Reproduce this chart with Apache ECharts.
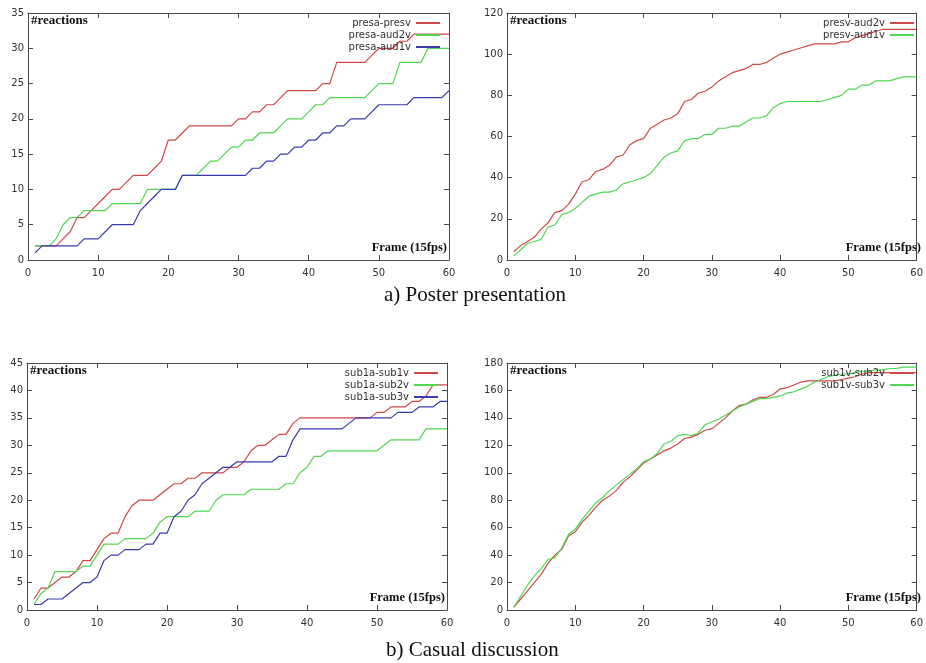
<!DOCTYPE html>
<html>
<head>
<meta charset="utf-8">
<script src="https://cdn.jsdelivr.net/npm/echarts@6/dist/echarts.min.js"></script>
<style>
  html, body { margin: 0; padding: 0; background: #fff; }
  #chart { width: 926px; height: 663px; }
</style>
</head>
<body>
<div id="chart"></div>
<script>
// frame numbers shared by every curve
const frames = [1, 2, 3, 4, 5, 6, 7, 8, 9, 10, 11, 12, 13, 14, 15, 16, 17, 18, 19, 20,
  21, 22, 23, 24, 25, 26, 27, 28, 29, 30, 31, 32, 33, 34, 35, 36, 37, 38, 39, 40,
  41, 42, 43, 44, 45, 46, 47, 48, 49, 50, 51, 52, 53, 54, 55, 56, 57, 58, 59, 60];

// a) poster presentation
const presaPresv = [2, 2, 2, 2, 3, 4, 6, 6, 7, 8, 9, 10, 10, 11, 12, 12, 12, 13, 14, 17,
  17, 18, 19, 19, 19, 19, 19, 19, 19, 20, 20, 21, 21, 22, 22, 23, 24, 24, 24, 24,
  24, 25, 25, 28, 28, 28, 28, 28, 29, 30, 30, 30, 31, 31, 32, 32, 32, 32, 32, 32];
const presaAud2v = [2, 2, 2, 3, 5, 6, 6, 7, 7, 7, 7, 8, 8, 8, 8, 8, 10, 10, 10, 10,
  10, 12, 12, 12, 13, 14, 14, 15, 16, 16, 17, 17, 18, 18, 18, 19, 20, 20, 20, 21,
  22, 22, 23, 23, 23, 23, 23, 23, 24, 25, 25, 25, 28, 28, 28, 28, 30, 30, 30, 30];
const presaAud1v = [1, 2, 2, 2, 2, 2, 2, 3, 3, 3, 4, 5, 5, 5, 5, 7, 8, 9, 10, 10,
  10, 12, 12, 12, 12, 12, 12, 12, 12, 12, 12, 13, 13, 14, 14, 15, 15, 16, 16, 17,
  17, 18, 18, 19, 19, 20, 20, 20, 21, 22, 22, 22, 22, 22, 23, 23, 23, 23, 23, 24];
const presvAud2v = [4, 7, 9, 11, 15, 18, 23, 24, 27, 32, 38, 39, 43, 44, 46, 50, 51, 56, 58, 59,
  64, 66, 68, 69, 71, 77, 78, 81, 82, 84, 87, 89, 91, 92, 93, 95, 95, 96, 98, 100,
  101, 102, 103, 104, 105, 105, 105, 105, 106, 106, 108, 109, 110, 111, 112, 112, 112, 112, 112, 112];
const presvAud1v = [2, 5, 8, 9, 10, 16, 17, 22, 23, 25, 28, 31, 32, 33, 33, 34, 37, 38, 39, 40,
  42, 46, 50, 52, 53, 58, 59, 59, 61, 61, 64, 64, 65, 65, 67, 69, 69, 70, 74, 76,
  77, 77, 77, 77, 77, 77, 78, 79, 80, 83, 83, 85, 85, 87, 87, 87, 88, 89, 89, 89];

// b) casual discussion
const sub1aSub1v = [2, 4, 4, 5, 6, 6, 7, 9, 9, 11, 13, 14, 14, 17, 19, 20, 20, 20, 21, 22,
  23, 23, 24, 24, 25, 25, 25, 25, 26, 26, 27, 29, 30, 30, 31, 32, 32, 34, 35, 35,
  35, 35, 35, 35, 35, 35, 35, 35, 35, 36, 36, 37, 37, 37, 38, 38, 39, 41, 41, 41];
const sub1aSub2v = [1, 3, 4, 7, 7, 7, 7, 8, 8, 10, 12, 12, 12, 13, 13, 13, 13, 14, 16, 17,
  17, 17, 17, 18, 18, 18, 20, 21, 21, 21, 21, 22, 22, 22, 22, 22, 23, 23, 25, 26,
  28, 28, 29, 29, 29, 29, 29, 29, 29, 29, 30, 31, 31, 31, 31, 31, 33, 33, 33, 33];
const sub1aSub3v = [1, 1, 2, 2, 2, 3, 4, 5, 5, 6, 9, 10, 10, 11, 11, 11, 12, 12, 14, 14,
  17, 18, 20, 21, 23, 24, 25, 26, 26, 27, 27, 27, 27, 27, 27, 28, 28, 31, 33, 33,
  33, 33, 33, 33, 33, 34, 35, 35, 35, 35, 35, 35, 36, 36, 36, 37, 37, 37, 38, 38];
const sub1vSub2v = [2, 8, 14, 20, 26, 34, 40, 44, 54, 57, 64, 69, 75, 80, 83, 87, 93, 97, 102, 107,
  110, 113, 116, 118, 121, 125, 126, 128, 131, 132, 136, 140, 145, 149, 150, 153, 155, 155, 157, 161,
  162, 164, 166, 167, 167, 167, 167, 167, 168, 169, 170, 172, 173, 173, 173, 173, 173, 173, 173, 173];
const sub1vSub3v = [2, 10, 18, 25, 30, 37, 38, 45, 55, 59, 66, 72, 78, 82, 87, 91, 95, 99, 103, 108,
  110, 114, 121, 123, 127, 128, 127, 129, 135, 137, 139, 142, 145, 148, 150, 152, 154, 154, 155, 156,
  158, 159, 161, 163, 166, 168, 170, 171, 172, 172, 173, 174, 174, 175, 175, 176, 176, 177, 177, 177];

const yMax = [35, 120, 45, 180];
const yStep = [5, 20, 5, 20];

const RED = '#d04848', GREEN = '#4fd84f', BLUE = '#3a3aae';

const panels = [
  { left: 28, top: 13, width: 421, height: 247,
    lines: [['presa-presv', presaPresv, RED], ['presa-aud2v', presaAud2v, GREEN], ['presa-aud1v', presaAud1v, BLUE]] },
  { left: 507, top: 13, width: 416, height: 247,
    lines: [['presv-aud2v', presvAud2v, RED], ['presv-aud1v', presvAud1v, GREEN]] },
  { left: 27, top: 363, width: 420, height: 247,
    lines: [['sub1a-sub1v', sub1aSub1v, RED], ['sub1a-sub2v', sub1aSub2v, GREEN], ['sub1a-sub3v', sub1aSub3v, BLUE]] },
  { left: 507, top: 363, width: 416, height: 247,
    lines: [['sub1v-sub2v', sub1vSub2v, RED], ['sub1v-sub3v', sub1vSub3v, GREEN]] }
];

const axisColor = '#4a4a4a';
const labelStyle = { color: '#333', fontSize: 10, fontFamily: 'DejaVu Sans' };

const grid = [], xAxis = [], yAxis = [], series = [], legend = [], graphic = [];

panels.forEach((p, i) => {
  grid.push({ left: p.left, top: p.top, width: p.width, height: p.height });
  const base = { min: 0, axisLine: { show: true, onZero: false, lineStyle: { color: axisColor, width: 1 } },
    splitLine: { show: false }, axisTick: { inside: true, length: 5, lineStyle: { color: axisColor } } };
  // bottom + mirrored top
  xAxis.push(Object.assign({}, base, { type: 'value', gridIndex: i, max: 60, interval: 10, position: 'bottom',
    axisLabel: Object.assign({ margin: 8 }, labelStyle) }));
  xAxis.push(Object.assign({}, base, { type: 'value', gridIndex: i, max: 60, interval: 10, position: 'top',
    axisLabel: { show: false } }));
  // left + mirrored right
  yAxis.push(Object.assign({}, base, { type: 'value', gridIndex: i, max: yMax[i], interval: yStep[i], position: 'left',
    axisLabel: Object.assign({ margin: 4 }, labelStyle) }));
  yAxis.push(Object.assign({}, base, { type: 'value', gridIndex: i, max: yMax[i], interval: yStep[i], position: 'right',
    axisLabel: { show: false } }));

  p.lines.forEach(([name, vals, color]) => {
    series.push({
      name, type: 'line', xAxisIndex: i * 2, yAxisIndex: i * 2,
      data: frames.map((f, k) => [f, vals[k]]),
      showSymbol: false, color, lineStyle: { width: 1.2, color }, animation: false
    });
  });

  legend.push({
    data: p.lines.map(l => l[0]),
    orient: 'vertical', align: 'right',
    right: 926 - (p.left + p.width) + 9, top: p.top + 5, padding: 0,
    itemWidth: 24, itemHeight: 2, itemGap: 2, icon: 'rect',
    textStyle: { color: '#333', fontSize: 10, fontFamily: 'DejaVu Sans', padding: [0, 0, 0, 0] },
    selectedMode: false
  });

  graphic.push({ type: 'text', left: p.left + 3, top: p.top + 1,
    style: { text: '#reactions', font: 'bold 13px "Liberation Serif"', fill: '#111' } });
  graphic.push({ type: 'text', right: 926 - (p.left + p.width) + 2, top: p.top + p.height - 19,
    style: { text: 'Frame (15fps)', font: 'bold 12.5px "Liberation Serif"', fill: '#111' } });
});

graphic.push({ type: 'text', left: 384, top: 285,
  style: { text: 'a) Poster presentation', font: '21px "Liberation Serif"', fill: '#111' } });
graphic.push({ type: 'text', left: 386, top: 640,
  style: { text: 'b) Casual discussion', font: '21px "Liberation Serif"', fill: '#111' } });

const chart = echarts.init(document.getElementById('chart'));
chart.setOption({
  backgroundColor: '#fff',
  animation: false,
  grid, xAxis, yAxis, series, legend, graphic
});
</script>
</body>
</html>
